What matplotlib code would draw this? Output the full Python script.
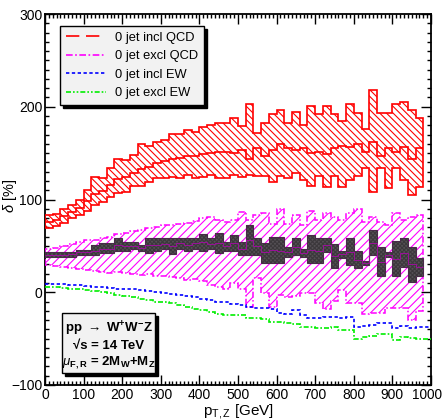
import numpy as np
import matplotlib
matplotlib.use("Agg")
import matplotlib.pyplot as plt
from matplotlib.ticker import MultipleLocator, FuncFormatter
from matplotlib.lines import Line2D
from matplotlib.patches import Rectangle

plt.rcParams['font.family'] = ['Liberation Sans', 'DejaVu Sans']
plt.rcParams['mathtext.fontset'] = 'custom'
plt.rcParams['mathtext.rm'] = 'Liberation Sans'
plt.rcParams['mathtext.it'] = 'Liberation Sans:italic'
plt.rcParams['mathtext.bf'] = 'Liberation Sans:bold'
plt.rcParams['hatch.linewidth'] = 0.8

# ---------------- data ----------------
bin_width = 20
band_edges = np.arange(0, 981, bin_width)       # 0..980 -> 49 bins
line_edges = np.arange(0, 1001, bin_width)      # 0..1000 -> 50 bins

incl_qcd_up = [83, 84, 90, 94, 99, 110, 124, 123, 134, 144,
               143, 148, 160, 158, 162, 164, 171, 171, 175, 173,
               178, 180, 183, 182, 188, 179, 203, 172, 182, 192,
               196, 182, 194, 180, 201, 192, 201, 192, 185, 203,
               193, 176, 218, 193, 193, 203, 205, 197, 188]
incl_qcd_lo = [69, 71, 75, 80, 83, 88, 94, 97, 103, 107,
               108, 115, 115, 119, 123, 123, 124, 123, 126, 123,
               124, 126, 123, 123, 126, 124, 126, 125, 125, 119,
               125, 123, 129, 121, 115, 125, 113, 125, 114, 121,
               125, 134, 108, 134, 112, 134, 121, 105, 113]
incl_qcd_c = [76, 78, 82, 87, 91, 98, 106, 109, 116, 122,
              124, 129, 133, 135, 139, 141, 144, 145, 147, 147,
              149, 150, 151, 151, 150, 153, 144, 155, 147, 153,
              160, 155, 153, 155, 150, 151, 149, 155, 158, 157,
              160, 151, 162, 147, 155, 151, 157, 144, 155]

excl_qcd_up = [47, 48, 50, 52, 54, 56, 56, 59, 60, 63,
               64, 66, 67, 69, 70, 72, 73, 74, 75, 77,
               80, 81, 78, 76, 78, 86, 78, 83, 85, 74,
               90, 74, 83, 72, 88, 78, 85, 81, 78, 85,
               90, 76, 81, 76, 72, 85, 78, 81, 83]
excl_qcd_lo = [29, 28, 27, 26, 25, 24, 23, 22, 21, 22,
               21, 20, 19, 20, 18, 17, 16, 15, 13, 14,
               12, 8, 6, 4, 10, 4, -16, 15, -1, -16,
               -3, -5, -4, -1, -1, -12, -18, -9, 2, -12,
               -12, -23, -22, -22, -17, -17, -17, -30, -20]
excl_qcd_c = [40, 40, 40, 41, 43, 43, 45, 47, 47, 51,
              50, 50, 48, 51, 51, 52, 50, 53, 51, 53,
              54, 52, 53, 50, 53, 47, 56, 50, 43, 46,
              45, 43, 49, 42, 46, 45, 51, 39, 41, 43,
              35, 31, 53, 33, 40, 36, 42, 30, 27]
excl_qcd_dark_up = [43, 43, 43, 43, 46, 46, 51, 53, 53, 58,
                    54, 54, 51, 59, 58, 59, 59, 59, 58, 59,
                    63, 58, 64, 54, 62, 54, 73, 59, 53, 60,
                    60, 49, 58, 47, 62, 58, 59, 52, 45, 58,
                    45, 34, 67, 49, 43, 55, 58, 49, 37]
excl_qcd_dark_lo = [38, 38, 38, 38, 40, 40, 40, 42, 42, 45,
                    45, 47, 45, 42, 45, 47, 41, 47, 45, 47,
                    45, 47, 42, 45, 45, 40, 40, 40, 32, 32,
                    31, 38, 40, 38, 31, 31, 43, 26, 37, 29,
                    26, 29, 40, 18, 38, 18, 27, 11, 18]

incl_ew = [9, 9, 8.5, 8, 7.5, 7, 6, 5.5, 5, 4,
           3.5, 3, 2, 1, 0, -1, -2, -3, -4, -5.5,
           -7, -8, -10, -11, -13, -14, -16, -17, -17, -18,
           -22, -23, -19, -25, -28, -28, -27, -27, -28, -27,
           -37, -36, -35, -33, -33, -39, -36, -39, -37, -38]
excl_ew = [6, 5.5, 5, 4, 3, 2, 1, 0, -1, -3,
           -4, -5, -7, -8, -10, -11, -12, -14, -16, -18,
           -19, -21, -23, -24, -25, -25, -28, -28, -29, -32,
           -32, -33, -34, -37, -38, -39, -39, -38, -41, -41,
           -50, -48, -47, -45, -45, -52, -48, -49, -50, -50]

legend_labels = ["0 jet incl QCD", "0 jet excl QCD", "0 jet incl EW", "0 jet excl EW"]

# ---------------- figure ----------------
fig = plt.figure(figsize=(4.44, 4.20), dpi=100)
ax = fig.add_axes([45/444, 35/420, 386/444, 371/420])

be = band_edges

red = '#ff0000'
mag = '#ff00ff'

# magenta wide band (hatched)
ax.stairs(excl_qcd_up, be, baseline=excl_qcd_lo, fill=True, facecolor='none',
          edgecolor=mag, hatch='////', linewidth=0, zorder=2)
ax.stairs(excl_qcd_up, be, baseline=excl_qcd_lo, fill=False, edgecolor=mag,
          linewidth=1.1, linestyle=(0, (4, 1.5, 1, 1.5)), zorder=3)

# dark band
ax.stairs(excl_qcd_dark_up, be, baseline=excl_qcd_dark_lo, fill=True,
          facecolor='#555055', edgecolor='#3c383c', hatch='xxxxxxxx',
          linewidth=0, zorder=4)
ax.stairs(excl_qcd_dark_up, be, baseline=excl_qcd_dark_lo, fill=False,
          edgecolor='#4a2a4a', linewidth=0.8, zorder=5)
ax.stairs(excl_qcd_c, be, baseline=None, edgecolor='#9a109a', linewidth=0.7, zorder=5)

# red band
ax.stairs(incl_qcd_up, be, baseline=incl_qcd_lo, fill=True, facecolor='none',
          edgecolor=red, hatch='\\\\\\\\\\', linewidth=0, zorder=2)
ax.stairs(incl_qcd_up, be, baseline=incl_qcd_lo, fill=False, edgecolor=red,
          linewidth=1.2, zorder=3)
ax.stairs(incl_qcd_c, be, baseline=None, edgecolor=red, linewidth=1.2, zorder=3)

# EW lines
ax.stairs(incl_ew, line_edges, baseline=None, edgecolor='#0000ff',
          linewidth=1.2, linestyle=(0, (2, 1.5)), zorder=6)
ax.stairs(excl_ew, line_edges, baseline=None, edgecolor='#00ee00',
          linewidth=1.2, linestyle=(0, (3, 1.2, 1, 1.2)), zorder=6)

ax.set_xlim(0, 1000)
ax.set_ylim(-100, 300)
ax.xaxis.set_major_locator(MultipleLocator(100))
ax.xaxis.set_minor_locator(MultipleLocator(10))
ax.yaxis.set_major_locator(MultipleLocator(100))
ax.yaxis.set_minor_locator(MultipleLocator(10))
ax.xaxis.set_major_formatter(FuncFormatter(lambda v, p: '' if v >= 999 else f"{v:.0f}"))
ax.tick_params(which='both', direction='in', top=True, right=True,
               labelsize=10, width=1.0, color='black')
ax.tick_params(which='major', length=7, pad=2)
ax.tick_params(which='minor', length=3)
for s in ax.spines.values():
    s.set_linewidth(1.3)

# last x tick label, nudged left so it stays inside the figure
ax.annotate("1000", xy=(1000, 0), xycoords=('data', 'axes fraction'),
            xytext=(-3, -2), textcoords='offset points',
            ha='center', va='top', fontsize=9.8)

ax.set_xlabel(r"p$_{\mathrm{T,Z}}$ [GeV]", fontsize=11, labelpad=0)
ax.set_ylabel(r"$\delta$ [%]", fontsize=10.5)
ax.yaxis.set_label_coords(-0.068, 0.51)

# legend
handles = [
    Line2D([], [], color=red, lw=1.2, linestyle=(0, (8, 4))),
    Line2D([], [], color=mag, lw=1.2, linestyle=(0, (4, 1.5, 1, 1.5))),
    Line2D([], [], color='#0000ff', lw=1.2, linestyle=(0, (2, 1.5))),
    Line2D([], [], color='#00ee00', lw=1.2, linestyle=(0, (3, 1.2, 1, 1.2, 1, 1.2))),
]
leg = ax.legend(handles, legend_labels, loc='upper left',
                bbox_to_anchor=(0.039, 0.968), borderaxespad=0,
                fontsize=9.3, handlelength=3.1, handletextpad=0.7,
                labelspacing=0.5, borderpad=0.45, fancybox=False,
                framealpha=1, facecolor='#f2f2f2', edgecolor='black',
                shadow={'color': 'black', 'alpha': 1, 'ox': 2, 'oy': -2})
leg.get_frame().set_linewidth(1.0)
leg.set_zorder(10)

# info box
bx0, bx1 = (62 - 45) / 386, (155 - 45) / 386
by0, by1 = (385 - 373) / 371, (385 - 313) / 371
dx, dy = 3 / 386, 3 / 371
ax.add_patch(Rectangle((bx0 + dx, by0 - dy), bx1 - bx0, by1 - by0,
                       transform=ax.transAxes, facecolor='black',
                       edgecolor='black', zorder=10))
ax.add_patch(Rectangle((bx0, by0), bx1 - bx0, by1 - by0,
                       transform=ax.transAxes, facecolor='#f2f2f2',
                       edgecolor='black', linewidth=1.0, zorder=11))
cx = (bx0 + bx1) / 2
ax.text(cx, 0.152, r"pp $\rightarrow$ W$^{\mathbf{+}}$W$^{\mathbf{-}}$Z",
        transform=ax.transAxes, ha='center', va='center', fontsize=9.5,
        fontweight='bold', zorder=12)
ax.text(cx, 0.105, "\u221as = 14 TeV", transform=ax.transAxes,
        ha='center', va='center', fontsize=9.5, fontweight='bold', zorder=12)
ax.text(cx, 0.060, r"$\mu_{\mathbf{F,R}}$ = 2M$_{\mathbf{W}}$+M$_{\mathbf{Z}}$",
        transform=ax.transAxes, ha='center', va='center', fontsize=9.5,
        fontweight='bold', zorder=12)

fig.savefig("out.png", dpi=100)
